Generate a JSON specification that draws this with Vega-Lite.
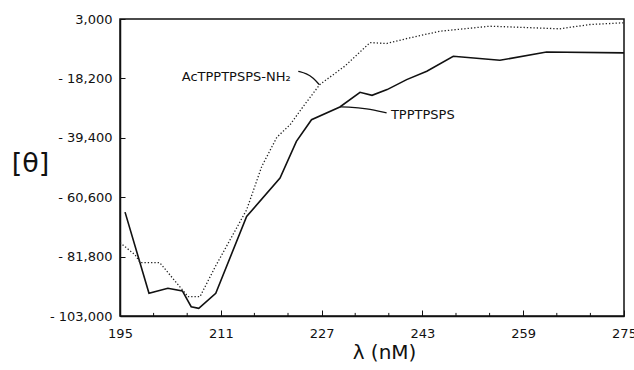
{
  "$schema": "https://vega.github.io/schema/vega-lite/v6.json",
  "width": 504,
  "height": 297,
  "autosize": {"type": "none"},
  "padding": {"left": 120, "top": 19, "right": 10, "bottom": 54},
  "background": "white",
  "config": {
    "view": {"stroke": "#111", "strokeWidth": 1.5},
    "axis": {"domainColor": "#111", "tickColor": "#111", "labelColor": "#111", "titleColor": "#111", "labelFont": "DejaVu Sans", "titleFont": "DejaVu Sans", "labelFontSize": 13, "grid": false, "domainWidth": 1.5, "labelBound": false, "labelFlush": false}
  },
  "datasets": {
    "curves": [
      {"series": "TPPTPSPS", "wl": 195.8, "theta": -65930},
      {"series": "TPPTPSPS", "wl": 199.6, "theta": -94880},
      {"series": "TPPTPSPS", "wl": 202.6, "theta": -93100},
      {"series": "TPPTPSPS", "wl": 204.9, "theta": -94060},
      {"series": "TPPTPSPS", "wl": 206.3, "theta": -99670},
      {"series": "TPPTPSPS", "wl": 207.5, "theta": -100250},
      {"series": "TPPTPSPS", "wl": 210.2, "theta": -94880},
      {"series": "TPPTPSPS", "wl": 215.1, "theta": -67500},
      {"series": "TPPTPSPS", "wl": 220.4, "theta": -53770},
      {"series": "TPPTPSPS", "wl": 223.0, "theta": -40690},
      {"series": "TPPTPSPS", "wl": 225.4, "theta": -32930},
      {"series": "TPPTPSPS", "wl": 229.9, "theta": -28390},
      {"series": "TPPTPSPS", "wl": 233.1, "theta": -23170},
      {"series": "TPPTPSPS", "wl": 235.0, "theta": -24240},
      {"series": "TPPTPSPS", "wl": 237.4, "theta": -22200},
      {"series": "TPPTPSPS", "wl": 240.5, "theta": -18630},
      {"series": "TPPTPSPS", "wl": 243.7, "theta": -15660},
      {"series": "TPPTPSPS", "wl": 247.9, "theta": -10300},
      {"series": "TPPTPSPS", "wl": 255.3, "theta": -11730},
      {"series": "TPPTPSPS", "wl": 262.7, "theta": -8800},
      {"series": "TPPTPSPS", "wl": 275.0, "theta": -9080},
      {"series": "AcTPPTPSPS-NH2", "wl": 195.0, "theta": -76800},
      {"series": "AcTPPTPSPS-NH2", "wl": 197.4, "theta": -81200},
      {"series": "AcTPPTPSPS-NH2", "wl": 198.2, "theta": -83940},
      {"series": "AcTPPTPSPS-NH2", "wl": 201.3, "theta": -83940},
      {"series": "AcTPPTPSPS-NH2", "wl": 205.8, "theta": -96100},
      {"series": "AcTPPTPSPS-NH2", "wl": 207.7, "theta": -96100},
      {"series": "AcTPPTPSPS-NH2", "wl": 210.1, "theta": -85480},
      {"series": "AcTPPTPSPS-NH2", "wl": 215.1, "theta": -65100},
      {"series": "AcTPPTPSPS-NH2", "wl": 217.5, "theta": -49620},
      {"series": "AcTPPTPSPS-NH2", "wl": 219.9, "theta": -39190},
      {"series": "AcTPPTPSPS-NH2", "wl": 222.0, "theta": -34720},
      {"series": "AcTPPTPSPS-NH2", "wl": 224.1, "theta": -28170},
      {"series": "AcTPPTPSPS-NH2", "wl": 226.7, "theta": -20420},
      {"series": "AcTPPTPSPS-NH2", "wl": 230.7, "theta": -13800},
      {"series": "AcTPPTPSPS-NH2", "wl": 234.7, "theta": -5400},
      {"series": "AcTPPTPSPS-NH2", "wl": 237.3, "theta": -5760},
      {"series": "AcTPPTPSPS-NH2", "wl": 241.0, "theta": -3720},
      {"series": "AcTPPTPSPS-NH2", "wl": 245.8, "theta": -1360},
      {"series": "AcTPPTPSPS-NH2", "wl": 253.7, "theta": 430},
      {"series": "AcTPPTPSPS-NH2", "wl": 264.8, "theta": -500},
      {"series": "AcTPPTPSPS-NH2", "wl": 269.6, "theta": 1030},
      {"series": "AcTPPTPSPS-NH2", "wl": 274.9, "theta": 1640}
    ],
    "leaders": [
      {"lead": "a", "wl": 223.3, "theta": -15660},
      {"lead": "a", "wl": 224.63, "theta": -16480},
      {"lead": "a", "wl": 225.68, "theta": -18020},
      {"lead": "a", "wl": 226.63, "theta": -20420},
      {"lead": "b", "wl": 229.92, "theta": -28390},
      {"lead": "b", "wl": 230.97, "theta": -28390},
      {"lead": "b", "wl": 234.14, "theta": -28890},
      {"lead": "b", "wl": 237.32, "theta": -30530}
    ],
    "labels": [
      {"text": "AcTPPTPSPS-NH₂", "wl": 204.8, "theta": -17560},
      {"text": "TPPTPSPS", "wl": 238.0, "theta": -31320}
    ],
    "minor": [
      {"wl": 200.3333}, {"wl": 205.6667}, {"wl": 216.3333}, {"wl": 221.6667},
      {"wl": 232.3333}, {"wl": 237.6667}, {"wl": 248.3333}, {"wl": 253.6667},
      {"wl": 264.3333}, {"wl": 269.6667}
    ]
  },
  "layer": [
    {
      "data": {"name": "curves"},
      "transform": [{"filter": "datum.series == 'TPPTPSPS'"}],
      "mark": {"type": "line", "color": "#111", "strokeWidth": 1.6},
      "encoding": {
        "x": {"field": "wl", "type": "quantitative", "scale": {"domain": [195, 275], "nice": false, "zero": false},
          "axis": {"values": [195, 211, 227, 243, 259, 275], "format": "d",
            "labelOverlap": false, "labelBound": false, "labelFlush": false, "tickSize": -6, "labelPadding": 17,
            "title": "λ (nM)", "titleFontSize": 20, "titleFontWeight": "normal", "titleX": 264, "titleY": 36, "titleBaseline": "middle"}},
        "y": {"field": "theta", "type": "quantitative", "scale": {"domain": [-103000, 3000], "nice": false, "zero": false},
          "axis": {"values": [-103000, -81800, -60600, -39400, -18200, 3000], "labelOverlap": false,
            "labelExpr": "datum.value < 0 ? '- ' + format(-datum.value, ',') : format(datum.value, ',')", "tickSize": -5, "labelPadding": 13,
            "title": "[θ]", "titleAngle": 0, "titleFontSize": 27, "titleFontWeight": "normal", "titleX": -90, "titleY": 144, "titleAlign": "center", "titleBaseline": "middle"}}
      }
    },
    {
      "data": {"name": "curves"},
      "transform": [{"filter": "datum.series == 'AcTPPTPSPS-NH2'"}],
      "mark": {"type": "line", "color": "#222", "strokeWidth": 1.3, "strokeDash": [1.3, 2]},
      "encoding": {
        "x": {"field": "wl", "type": "quantitative"},
        "y": {"field": "theta", "type": "quantitative"}
      }
    },
    {
      "data": {"name": "minor"},
      "mark": {"type": "rule", "color": "#111", "strokeWidth": 1},
      "encoding": {
        "x": {"field": "wl", "type": "quantitative"},
        "y": {"datum": -103000, "type": "quantitative"},
        "y2": {"datum": -101900}
      }
    },
    {
      "data": {"name": "leaders"},
      "mark": {"type": "line", "color": "#111", "strokeWidth": 1.3, "interpolate": "basis"},
      "encoding": {
        "x": {"field": "wl", "type": "quantitative"},
        "y": {"field": "theta", "type": "quantitative"},
        "detail": {"field": "lead"}
      }
    },
    {
      "data": {"name": "labels"},
      "mark": {"type": "text", "align": "left", "baseline": "middle", "font": "DejaVu Sans", "fontSize": 13, "color": "#111"},
      "encoding": {
        "x": {"field": "wl", "type": "quantitative"},
        "y": {"field": "theta", "type": "quantitative"},
        "text": {"field": "text"}
      }
    }
  ]
}
